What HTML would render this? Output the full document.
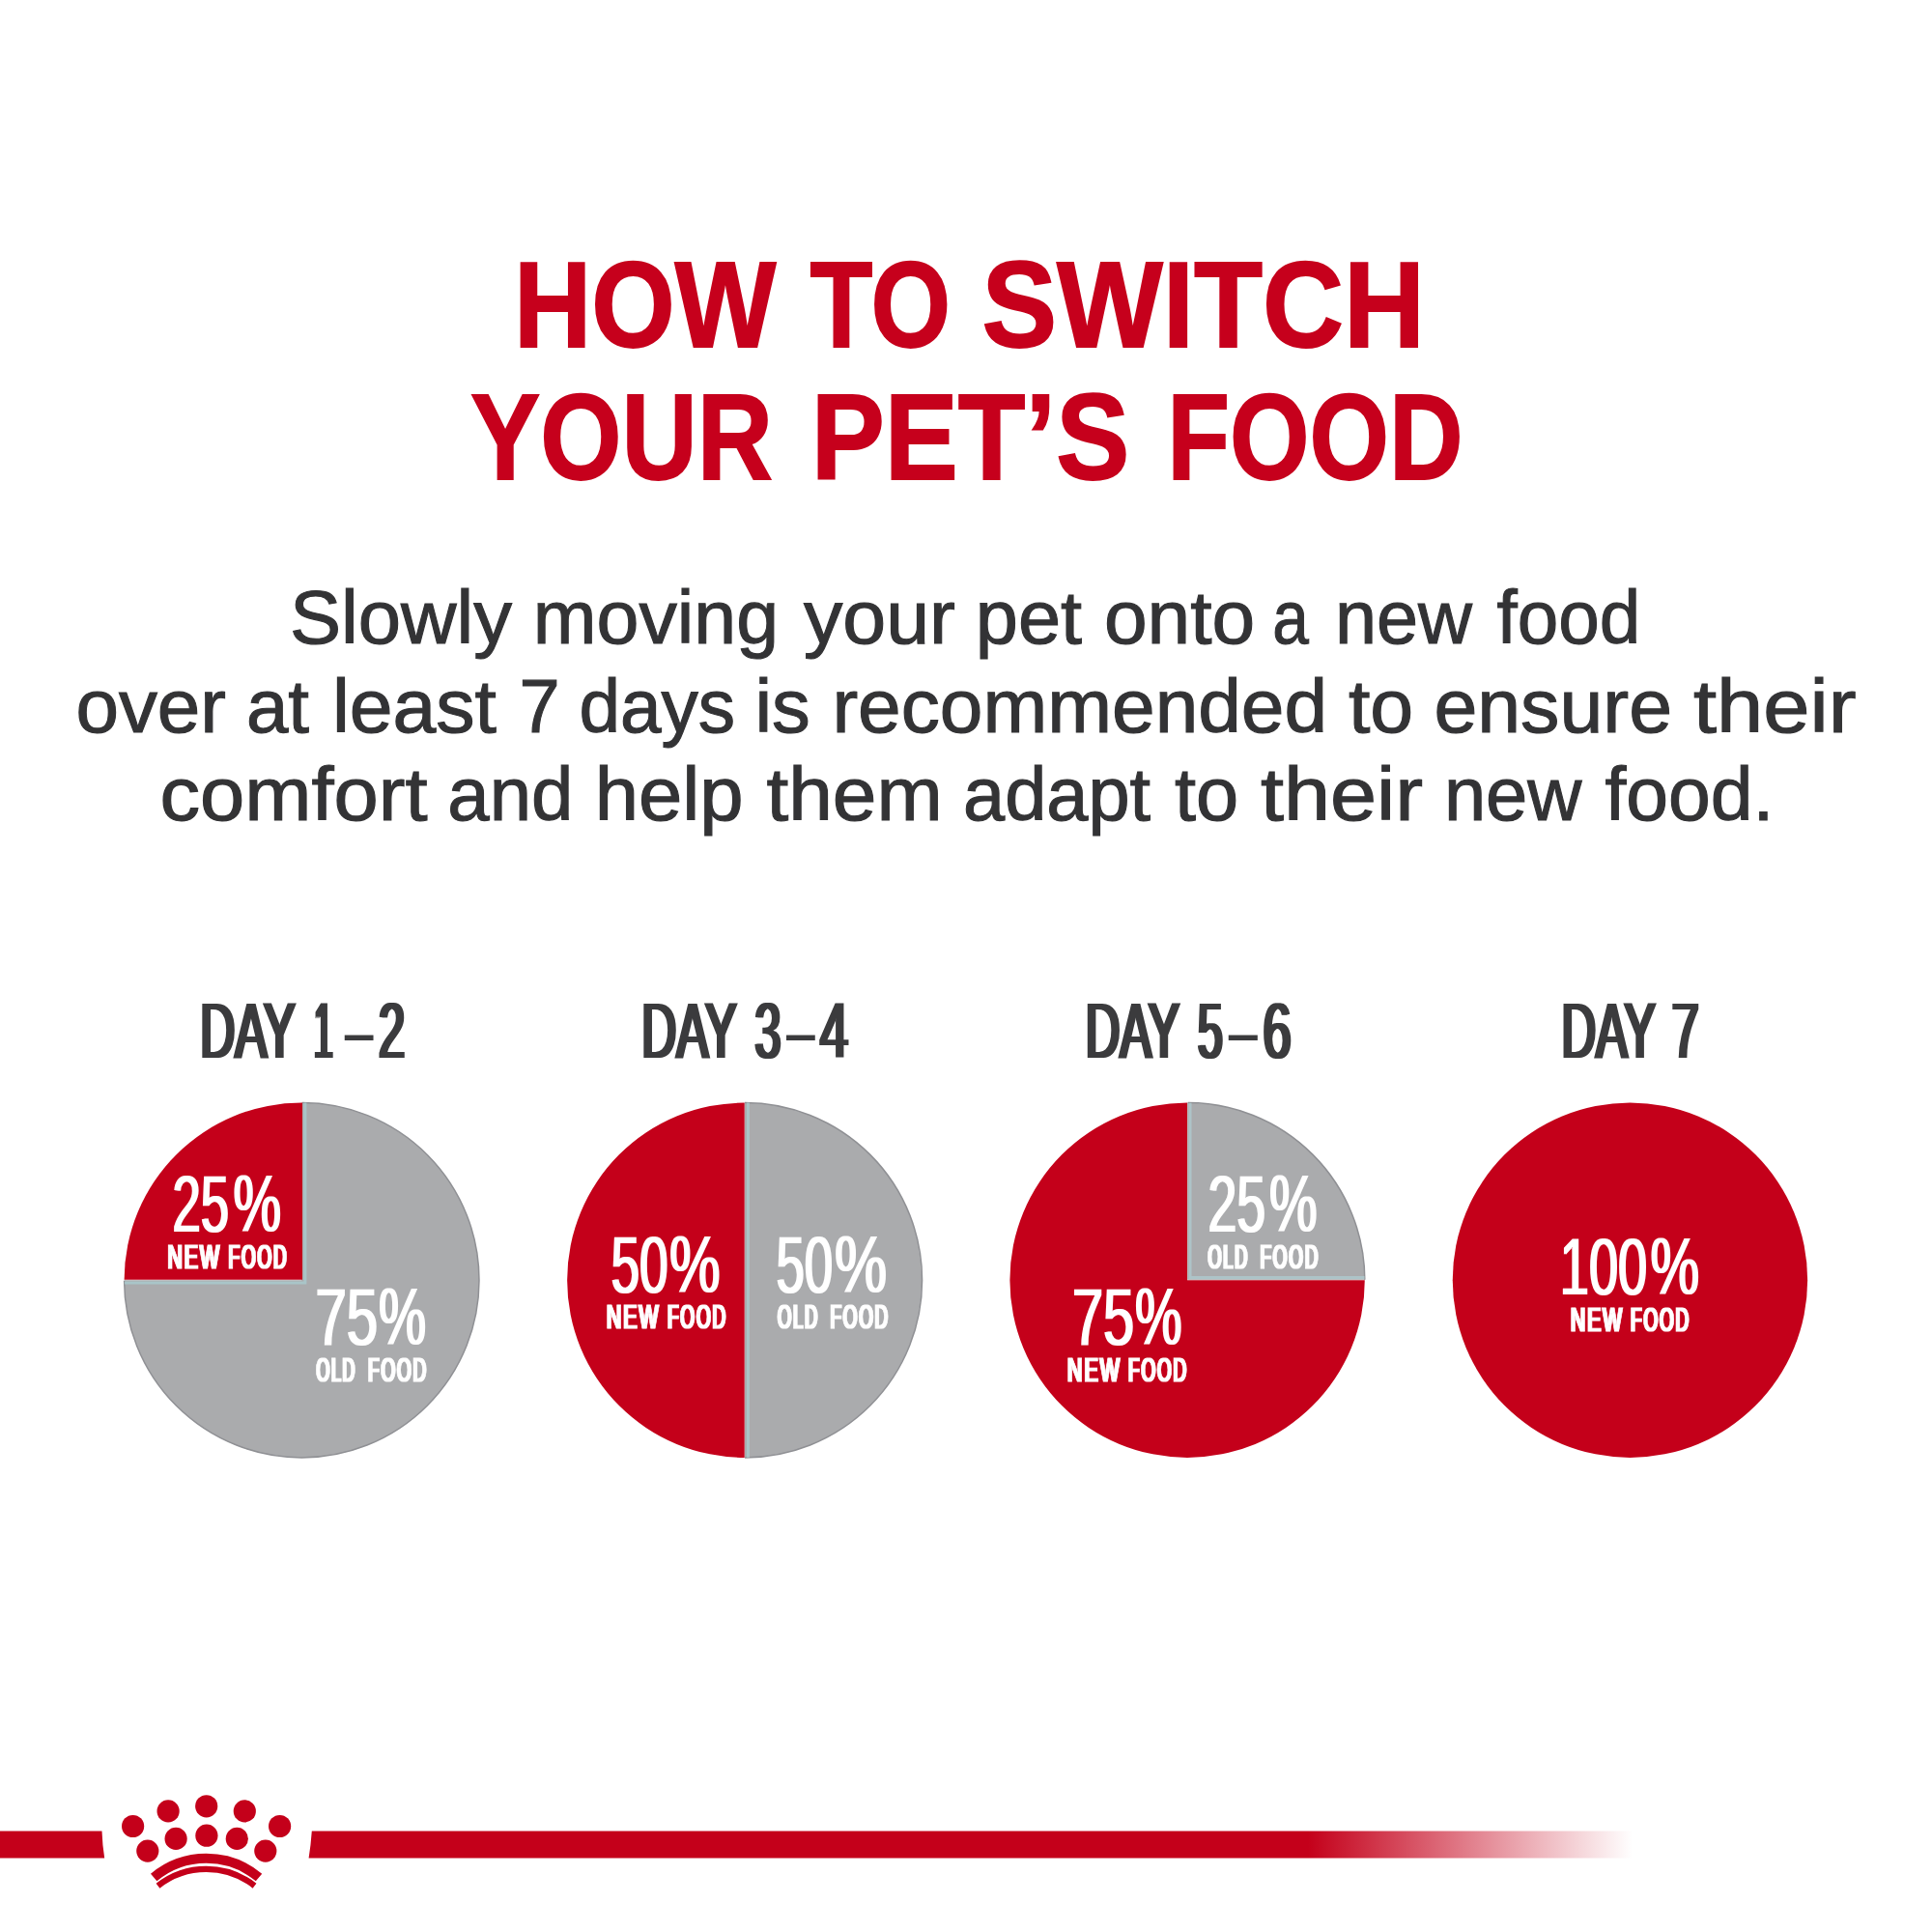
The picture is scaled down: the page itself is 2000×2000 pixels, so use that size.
<!DOCTYPE html>
<html lang="en">
<head>
<meta charset="utf-8">
<title>How to switch your pet's food</title>
<style>
  html, body { margin: 0; padding: 0; background: #ffffff; }
  body { width: 2000px; height: 2000px; overflow: hidden; }
  svg { display: block; }
  text { font-family: "Liberation Sans", sans-serif; }
  .title { font-weight: 700; fill: #c6001c; font-size: 127px; stroke: #c6001c; stroke-width: 1.8px; stroke-linejoin: miter; }
  .body  { font-weight: 400; fill: #333335; font-size: 78px; stroke: #333335; stroke-width: 1.1px; }
  .day   { font-weight: 400; fill: #3a3a3c; font-size: 82px; filter: url(#thickX2); }
  .num   { font-weight: 400; fill: #ffffff; font-size: 84px; filter: url(#thickX1); }
  .lab   { font-weight: 400; fill: #ffffff; font-size: 35.6px; letter-spacing: 0.1em; stroke: #ffffff; stroke-width: 1px; filter: url(#thickX1); }
</style>
</head>
<body>
<svg width="2000" height="2000" viewBox="0 0 2000 2000">
  <defs>
    <filter id="thickX1" x="-20%" y="-15%" width="140%" height="130%"><feMorphology operator="dilate" radius="1 0"/></filter>
    <filter id="thickX2" x="-20%" y="-15%" width="140%" height="130%"><feMorphology operator="dilate" radius="2 0"/></filter>
    <linearGradient id="fade" gradientUnits="userSpaceOnUse" x1="1354" y1="0" x2="1690" y2="0">
      <stop offset="0" stop-color="#c4001a" stop-opacity="1"/>
      <stop offset="1" stop-color="#c4001a" stop-opacity="0"/>
    </linearGradient>
  </defs>
  <rect x="0" y="0" width="2000" height="2000" fill="#ffffff"/>

  <!-- TITLE -->
  <g id="title">
    <text class="title" y="359.0"><tspan x="531.9" textLength="271.6" lengthAdjust="spacingAndGlyphs">HOW</tspan> <tspan x="838.5" textLength="145.6" lengthAdjust="spacingAndGlyphs">TO</tspan> <tspan x="1016.4" textLength="458.7" lengthAdjust="spacingAndGlyphs">SWITCH</tspan></text>
    <text class="title" y="496.0"><tspan x="487.0" textLength="313.0" lengthAdjust="spacingAndGlyphs">YOUR</tspan> <tspan x="839.8" textLength="329.4" lengthAdjust="spacingAndGlyphs">PET’S</tspan> <tspan x="1208.3" textLength="306.4" lengthAdjust="spacingAndGlyphs">FOOD</tspan></text>
  </g>

  <!-- BODY COPY -->
  <g id="copy">
    <text class="body" y="665.5"><tspan x="300.0" textLength="230.0" lengthAdjust="spacingAndGlyphs">Slowly</tspan> <tspan x="551.8" textLength="254.3" lengthAdjust="spacingAndGlyphs">moving</tspan> <tspan x="832.0" textLength="157.0" lengthAdjust="spacingAndGlyphs">your</tspan> <tspan x="1009.8" textLength="110.2" lengthAdjust="spacingAndGlyphs">pet</tspan> <tspan x="1142.9" textLength="156.2" lengthAdjust="spacingAndGlyphs">onto</tspan> <tspan x="1317.3" textLength="37.6" lengthAdjust="spacingAndGlyphs">a</tspan> <tspan x="1381.9" textLength="142.1" lengthAdjust="spacingAndGlyphs">new</tspan> <tspan x="1549.5" textLength="148.7" lengthAdjust="spacingAndGlyphs">food</tspan></text>
    <text class="body" y="758.0"><tspan x="78.4" textLength="155.6" lengthAdjust="spacingAndGlyphs">over</tspan> <tspan x="254.9" textLength="65.1" lengthAdjust="spacingAndGlyphs">at</tspan> <tspan x="343.9" textLength="170.1" lengthAdjust="spacingAndGlyphs">least</tspan> <tspan x="537.5" textLength="42.1" lengthAdjust="spacingAndGlyphs">7</tspan> <tspan x="599.4" textLength="161.7" lengthAdjust="spacingAndGlyphs">days</tspan> <tspan x="781.4" textLength="57.4" lengthAdjust="spacingAndGlyphs">is</tspan> <tspan x="861.4" textLength="512.7" lengthAdjust="spacingAndGlyphs">recommended</tspan> <tspan x="1395.9" textLength="67.2" lengthAdjust="spacingAndGlyphs">to</tspan> <tspan x="1484.4" textLength="246.6" lengthAdjust="spacingAndGlyphs">ensure</tspan> <tspan x="1753.0" textLength="168.5" lengthAdjust="spacingAndGlyphs">their</tspan></text>
    <text class="body" y="849.0"><tspan x="165.5" textLength="277.0" lengthAdjust="spacingAndGlyphs">comfort</tspan> <tspan x="463.3" textLength="130.0" lengthAdjust="spacingAndGlyphs">and</tspan> <tspan x="615.7" textLength="153.9" lengthAdjust="spacingAndGlyphs">help</tspan> <tspan x="793.5" textLength="182.2" lengthAdjust="spacingAndGlyphs">them</tspan> <tspan x="997.0" textLength="194.1" lengthAdjust="spacingAndGlyphs">adapt</tspan> <tspan x="1215.9" textLength="66.2" lengthAdjust="spacingAndGlyphs">to</tspan> <tspan x="1305.0" textLength="168.0" lengthAdjust="spacingAndGlyphs">their</tspan> <tspan x="1494.9" textLength="142.6" lengthAdjust="spacingAndGlyphs">new</tspan> <tspan x="1661.5" textLength="174.8" lengthAdjust="spacingAndGlyphs">food.</tspan></text>
  </g>

  <!-- DAY LABELS -->
  <g id="days">
    <text class="day" y="1095.4"><tspan x="207.2" textLength="97.8" lengthAdjust="spacingAndGlyphs">DAY</tspan> <tspan x="325.3" textLength="19.1" lengthAdjust="spacingAndGlyphs">1</tspan><tspan x="358.8" textLength="25.8" lengthAdjust="spacingAndGlyphs">–</tspan><tspan x="392.1" textLength="27.2" lengthAdjust="spacingAndGlyphs">2</tspan></text>
    <text class="day" y="1095.4"><tspan x="664.3" textLength="97.7" lengthAdjust="spacingAndGlyphs">DAY</tspan> <tspan x="781.6" textLength="26.9" lengthAdjust="spacingAndGlyphs">3</tspan><tspan x="816.0" textLength="25.8" lengthAdjust="spacingAndGlyphs">–</tspan><tspan x="848.9" textLength="29.0" lengthAdjust="spacingAndGlyphs">4</tspan></text>
    <text class="day" y="1095.4"><tspan x="1123.8" textLength="96.7" lengthAdjust="spacingAndGlyphs">DAY</tspan> <tspan x="1239.9" textLength="25.7" lengthAdjust="spacingAndGlyphs">5</tspan><tspan x="1273.7" textLength="26.1" lengthAdjust="spacingAndGlyphs">–</tspan><tspan x="1307.4" textLength="29.1" lengthAdjust="spacingAndGlyphs">6</tspan></text>
    <text class="day" y="1095.4"><tspan x="1616.5" textLength="96.6" lengthAdjust="spacingAndGlyphs">DAY</tspan> <tspan x="1730.8" textLength="28.0" lengthAdjust="spacingAndGlyphs">7</tspan></text>
  </g>

  <!-- PIE 1 -->
  <g id="pie1">
    <path d="M312.3 1325.2 L312.3 1141.5 A183.7 183.7 0 1 1 128.6 1325.2 Z" fill="#aaabad"/>
    <path d="M313.0 1141.5 A183.7 183.7 0 1 1 128.6 1325.7" fill="none" stroke="#8f9094" stroke-width="1.5"/>
    <path d="M313 1324.8 L313 1141.5 A183.7 183.7 0 0 0 128.6 1324.8 Z" fill="#c4001a"/>
    <path d="M128.9 1327.9 H315.9 V1141.6" fill="none" stroke="#a9c9cd" stroke-width="3" stroke-opacity="0.85"/>
    <text class="num" y="1275.2"><tspan x="178.4" textLength="58.6" lengthAdjust="spacingAndGlyphs">25</tspan><tspan x="241.4" textLength="49.6" lengthAdjust="spacingAndGlyphs">%</tspan></text>
    <text class="lab" y="1313.4"><tspan x="173.5" textLength="55.6" lengthAdjust="spacingAndGlyphs">NEW</tspan> <tspan x="236.5" textLength="62.1" lengthAdjust="spacingAndGlyphs">FOOD</tspan></text>
    <text class="num" y="1392.2"><tspan x="326.4" textLength="64.7" lengthAdjust="spacingAndGlyphs">75</tspan><tspan x="391.9" textLength="49.1" lengthAdjust="spacingAndGlyphs">%</tspan></text>
    <text class="lab" y="1430.3"><tspan x="327.5" textLength="41.6" lengthAdjust="spacingAndGlyphs">OLD</tspan> <tspan x="381.0" textLength="62.1" lengthAdjust="spacingAndGlyphs">FOOD</tspan></text>
  </g>

  <!-- PIE 2 -->
  <g id="pie2">
    <path d="M770.7 1141.5 A183.7 183.7 0 0 1 770.7 1508.9 Z" fill="#aaabad"/>
    <path d="M771.0 1141.5 A183.7 183.7 0 0 1 771.0 1508.9" fill="none" stroke="#8f9094" stroke-width="1.5"/>
    <path d="M770.7 1141.5 A183.7 183.7 0 0 0 770.7 1508.9 Z" fill="#c4001a"/>
    <path d="M774.4 1141.6 V1508.8" fill="none" stroke="#a9c9cd" stroke-width="3" stroke-opacity="0.85"/>
    <text class="num" y="1338.0"><tspan x="632.4" textLength="59.2" lengthAdjust="spacingAndGlyphs">50</tspan><tspan x="692.9" textLength="52.6" lengthAdjust="spacingAndGlyphs">%</tspan></text>
    <text class="lab" y="1375.4"><tspan x="628.0" textLength="55.6" lengthAdjust="spacingAndGlyphs">NEW</tspan> <tspan x="690.9" textLength="62.1" lengthAdjust="spacingAndGlyphs">FOOD</tspan></text>
    <text class="num" y="1338.0"><tspan x="803.4" textLength="58.7" lengthAdjust="spacingAndGlyphs">50</tspan><tspan x="863.9" textLength="54.1" lengthAdjust="spacingAndGlyphs">%</tspan></text>
    <text class="lab" y="1375.4"><tspan x="805.0" textLength="43.1" lengthAdjust="spacingAndGlyphs">OLD</tspan> <tspan x="859.4" textLength="61.6" lengthAdjust="spacingAndGlyphs">FOOD</tspan></text>
  </g>

  <!-- PIE 3 -->
  <g id="pie3">
    <path d="M1229.1 1325.2 L1412.8 1325.2 A183.7 183.7 0 1 1 1229.1 1141.5 Z" fill="#c4001a"/>
    <path d="M1229.2 1324.8 L1229.2 1141.5 A183.7 183.7 0 0 1 1412.8 1324.8 Z" fill="#aaabad"/>
    <path d="M1229.7 1141.5 A183.7 183.7 0 0 1 1412.8 1324.8" fill="none" stroke="#8f9094" stroke-width="1.5"/>
    <path d="M1232 1141.7 V1322.6 H1412.5" fill="none" stroke="#aecbce" stroke-width="3" stroke-opacity="0.8"/>
    <text class="num" y="1275.2"><tspan x="1250.4" textLength="59.7" lengthAdjust="spacingAndGlyphs">25</tspan><tspan x="1313.9" textLength="49.6" lengthAdjust="spacingAndGlyphs">%</tspan></text>
    <text class="lab" y="1313.4"><tspan x="1250.5" textLength="42.5" lengthAdjust="spacingAndGlyphs">OLD</tspan> <tspan x="1304.5" textLength="61.6" lengthAdjust="spacingAndGlyphs">FOOD</tspan></text>
    <text class="num" y="1392.2"><tspan x="1109.9" textLength="64.2" lengthAdjust="spacingAndGlyphs">75</tspan><tspan x="1175.0" textLength="48.6" lengthAdjust="spacingAndGlyphs">%</tspan></text>
    <text class="lab" y="1430.3"><tspan x="1105.0" textLength="56.1" lengthAdjust="spacingAndGlyphs">NEW</tspan> <tspan x="1168.0" textLength="62.1" lengthAdjust="spacingAndGlyphs">FOOD</tspan></text>
  </g>

  <!-- PIE 4 -->
  <g id="pie4">
    <circle cx="1687.45" cy="1325.2" r="183.7" fill="#c4001a"/>
    <text class="num" y="1340.1"><tspan x="1614.8" textLength="90.3" lengthAdjust="spacingAndGlyphs">100</tspan><tspan x="1708.5" textLength="50.6" lengthAdjust="spacingAndGlyphs">%</tspan></text>
    <text class="lab" y="1378.4"><tspan x="1626.0" textLength="55.1" lengthAdjust="spacingAndGlyphs">NEW</tspan> <tspan x="1688.0" textLength="62.1" lengthAdjust="spacingAndGlyphs">FOOD</tspan></text>
  </g>

  <!-- FOOTER BAR + CROWN -->
  <g id="footer" fill="#c4001a">
    <path d="M0 1895.5 H105.5 Q106 1910 108.2 1923.5 H0 Z"/>
    <path d="M322.8 1895.5 H1692 V1923.5 H319.6 Q321.8 1910 322.8 1895.5 Z" fill="url(#fade)"/>
    <g id="crown">
      <circle cx="213.7" cy="1869.8" r="11.6"/>
      <circle cx="174.1" cy="1874.9" r="11.6"/>
      <circle cx="253.3" cy="1874.9" r="11.6"/>
      <circle cx="137.6" cy="1890.5" r="11.6"/>
      <circle cx="289.6" cy="1890.5" r="11.6"/>
      <circle cx="182.1" cy="1903.4" r="11.6"/>
      <circle cx="213.9" cy="1900.2" r="11.6"/>
      <circle cx="245.3" cy="1903.4" r="11.6"/>
      <circle cx="152.8" cy="1916.1" r="11.6"/>
      <circle cx="274.8" cy="1916.1" r="11.6"/>
      <path d="M159.2 1943.5 A84.9 84.9 0 0 1 268 1943.5" fill="none" stroke="#c4001a" stroke-width="10"/>
      <path d="M163.5 1952.2 A80.9 80.9 0 0 1 263.5 1952.2" fill="none" stroke="#c4001a" stroke-width="6.2"/>
    </g>
  </g>
</svg>
</body>
</html>
